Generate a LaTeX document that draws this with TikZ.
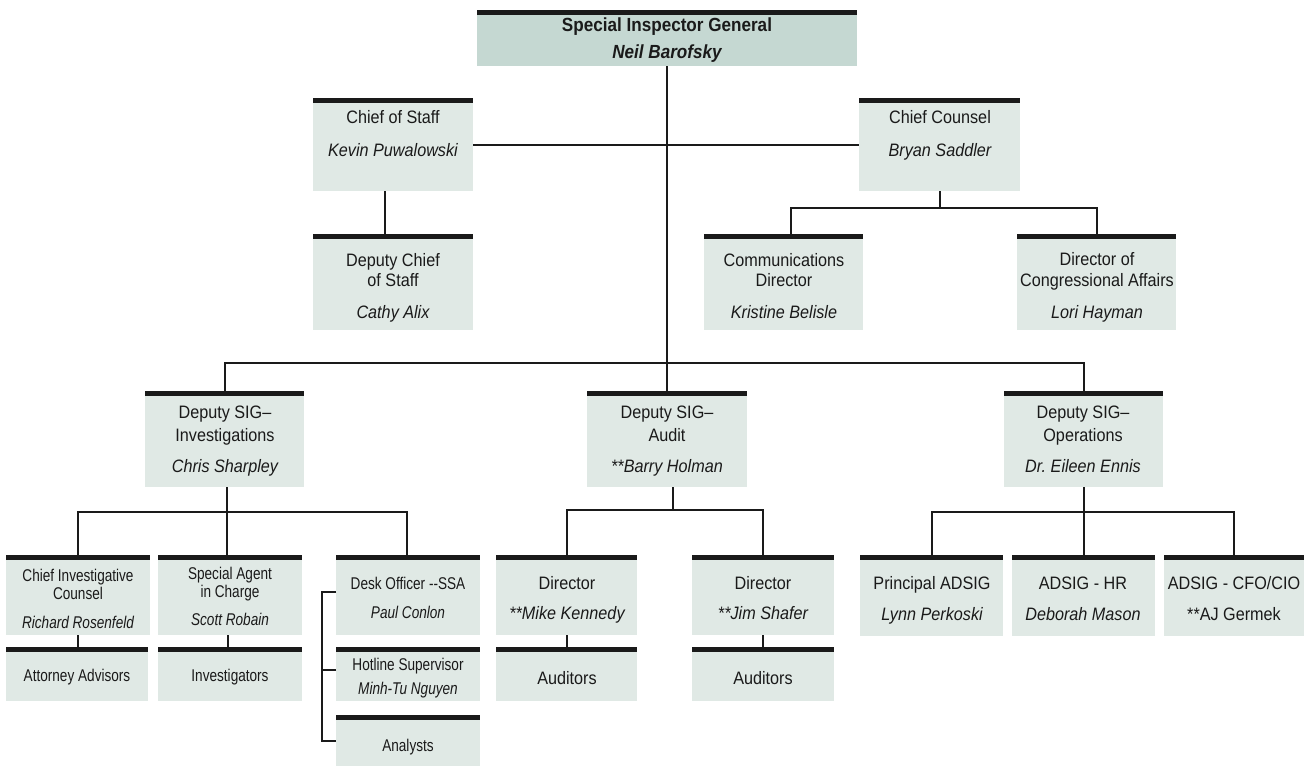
\documentclass[tikz,border=0pt]{standalone}
\usepackage{fontspec}
\setmainfont{Liberation Sans}[FakeStretch=0.9]
\newfontfamily\narrowfont{Liberation Sans}[FakeStretch=0.8]
\definecolor{boxfill}{HTML}{E0E9E5}
\definecolor{topfill}{HTML}{C5D8D2}
\definecolor{ink}{HTML}{1A1A1A}
\tikzset{
  orgbox/.style={draw=none, fill=boxfill, inner sep=0pt, outer sep=0pt, anchor=north west,
    path picture={\fill[ink] (path picture bounding box.north west) rectangle ([yshift=-5pt]path picture bounding box.north east);}},
  lbl/.style={inner sep=0pt, anchor=mid, yshift=-4pt, text=ink, font=\fontsize{18}{20}\selectfont},
  nlbl/.style={inner sep=0pt, anchor=mid, yshift=-4pt, text=ink, font=\narrowfont\fontsize{17}{20}\selectfont},
  toplbl/.style={inner sep=0pt, anchor=mid, yshift=-4pt, text=ink, font=\fontsize{19}{22}\selectfont\bfseries},
  conn/.style={draw=ink, line width=2pt},
}
\newcommand\obox[5]{\node[orgbox, minimum width=#4pt, minimum height=#5pt] (#1) at (#2,#3) {};}
\newcommand\otext[5][lbl]{\node[#1] (#2) at (#3,#4) {#5};}
\begin{document}
\begin{tikzpicture}[x=1pt,y=-1pt]
\useasboundingbox (0,0) rectangle (1304,766);
% boxes
\node[orgbox, fill=topfill, minimum width=380pt, minimum height=56pt] (sig) at (477,10) {};
\obox{cos}{313}{98}{160}{93}
\obox{cc}{859}{98}{161}{93}
\obox{dcos}{313}{234}{160}{96}
\obox{comm}{704}{234}{159}{96}
\obox{cong}{1017}{234}{159}{96}
\obox{inv}{145}{391}{159}{96}
\obox{aud}{587}{391}{160}{96}
\obox{ops}{1004}{391}{159}{96}
\obox{cic}{6}{555}{144}{80}
\obox{aa}{6}{647}{142}{54}
\obox{sac}{158}{555}{144}{80}
\obox{invs}{158}{647}{144}{54}
\obox{desk}{336}{555}{144}{80}
\obox{hot}{336}{647}{144}{54}
\obox{ana}{336}{715}{144}{51}
\obox{dir1}{496}{555}{141}{80}
\obox{aud1}{496}{647}{141}{54}
\obox{dir2}{692}{555}{142}{80}
\obox{aud2}{692}{647}{142}{54}
\obox{padsig}{860}{555}{143}{81}
\obox{hr}{1012}{555}{143}{81}
\obox{cfo}{1164}{555}{140}{81}
% texts
\otext[toplbl]{sig-a}{667}{25}{Special Inspector General}
\otext[toplbl]{sig-b}{667}{52}{\itshape Neil Barofsky}
\otext{cos-a}{393}{117}{Chief of Staff}
\otext{cos-b}{393}{150}{\itshape Kevin Puwalowski}
\otext{cc-a}{940}{117}{Chief Counsel}
\otext{cc-b}{940}{150}{\itshape Bryan Saddler}
\otext{dcos-a}{393}{260}{Deputy Chief}
\otext{dcos-b}{393}{280}{of Staff}
\otext{dcos-c}{393}{312}{\itshape Cathy Alix}
\otext{comm-a}{784}{260}{Communications}
\otext{comm-b}{784}{280}{Director}
\otext{comm-c}{784}{312}{\itshape Kristine Belisle}
\otext{cong-a}{1097}{259}{Director of}
\otext{cong-b}{1097}{280}{Congressional Affairs}
\otext{cong-c}{1097}{312}{\itshape Lori Hayman}
\otext{inv-a}{225}{412}{Deputy SIG–}
\otext{inv-b}{225}{435}{Investigations}
\otext{inv-c}{225}{466}{\itshape Chris Sharpley}
\otext{aud-a}{667}{412}{Deputy SIG–}
\otext{aud-b}{667}{435}{Audit}
\otext{aud-c}{667}{466}{\itshape **Barry Holman}
\otext{ops-a}{1083}{412}{Deputy SIG–}
\otext{ops-b}{1083}{435}{Operations}
\otext{ops-c}{1083}{466}{\itshape Dr.\ Eileen Ennis}
\otext[nlbl]{cic-a}{78}{575}{Chief Investigative}
\otext[nlbl]{cic-b}{78}{593}{Counsel}
\otext[nlbl]{cic-c}{78}{622}{\itshape Richard Rosenfeld}
\otext[nlbl]{aa-a}{77}{675}{Attorney Advisors}
\otext[nlbl]{sac-a}{230}{573}{Special Agent}
\otext[nlbl]{sac-b}{230}{591}{in Charge}
\otext[nlbl]{sac-c}{230}{619}{\itshape Scott Robain}
\otext[nlbl]{invs-a}{230}{675}{Investigators}
\otext[nlbl]{desk-a}{408}{583}{Desk Officer -{}-SSA}
\otext[nlbl]{desk-b}{408}{612}{\itshape Paul Conlon}
\otext[nlbl]{hot-a}{408}{664}{Hotline Supervisor}
\otext[nlbl]{hot-b}{408}{688}{\itshape Minh-Tu Nguyen}
\otext[nlbl]{ana-a}{408}{745}{Analysts}
\otext{dir1-a}{567}{583}{Director}
\otext{dir1-b}{567}{613}{\itshape **Mike Kennedy}
\otext{aud1-a}{567}{678}{Auditors}
\otext{dir2-a}{763}{583}{Director}
\otext{dir2-b}{763}{613}{\itshape **Jim Shafer}
\otext{aud2-a}{763}{678}{Auditors}
\otext{padsig-a}{932}{583}{Principal ADSIG}
\otext{padsig-b}{932}{614}{\itshape Lynn Perkoski}
\otext{hr-a}{1083}{583}{ADSIG - HR}
\otext{hr-b}{1083}{614}{\itshape Deborah Mason}
\otext{cfo-a}{1234}{583}{ADSIG - CFO/CIO}
\otext{cfo-b}{1234}{614}{**AJ Germek}
% connectors
\draw[conn] (sig.south) -- (aud.north);
\draw[conn] (inv.north) -- ++(0,-28) -| (ops.north);
\draw[conn] (cos.east) -- (cc.west);
\draw[conn] ([xshift=-8pt]cos.south) -- ([xshift=-8pt]dcos.north);
\draw[conn] (cc.south) -- ++(0,17);
\draw[conn] ([xshift=7pt]comm.north) |- ([yshift=-17pt]cc.south) -| (cong.north);
\draw[conn] ([xshift=2pt]inv.south) -- ([xshift=2pt]inv.south |- sac.north);
\draw[conn] (cic.north) |- ([yshift=-25pt]inv.south) -| ([xshift=-1pt]desk.north);
\draw[conn] ([xshift=6pt]aud.south) -- ++(0,23);
\draw[conn] (dir1.north) |- ([yshift=-23pt]aud.south) -| (dir2.north);
\draw[conn] (ops.south) -- (ops.south |- hr.north);
\draw[conn] (padsig.north) |- ([yshift=-25pt]ops.south) -| (cfo.north);
\draw[conn] (cic.south) -- (cic.south |- aa.north);
\draw[conn] ([xshift=-2pt]sac.south) -- ([xshift=-2pt]sac.south |- invs.north);
\draw[conn] (dir1.south) -- (dir1.south |- aud1.north);
\draw[conn] (dir2.south) -- (dir2.south |- aud2.north);
\draw[conn] ([yshift=3pt]desk.west) -- ++(-14,0) |- (ana.west);
\draw[conn] ([yshift=4pt]hot.west) -- ++(-14,0);
\end{tikzpicture}
\end{document}
